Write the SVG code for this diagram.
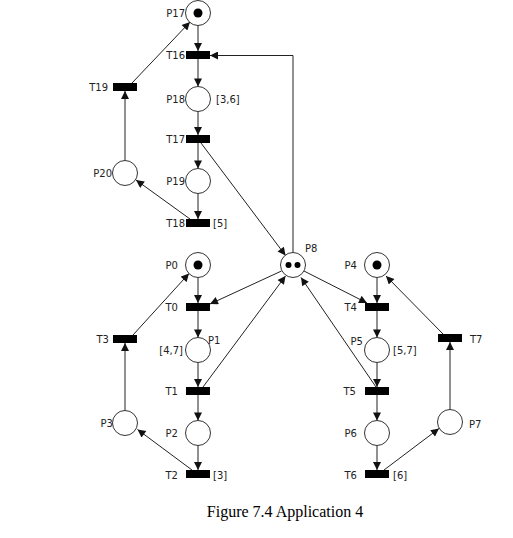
<svg xmlns="http://www.w3.org/2000/svg" width="513" height="538" viewBox="0 0 513 538">
<defs>
<marker id="ah" viewBox="0 0 10 10" refX="10" refY="5" markerWidth="9" markerHeight="8" markerUnits="userSpaceOnUse" orient="auto">
<path d="M0,0 L10,5 L0,10 Z" fill="#111"/>
</marker>
</defs>
<style>
.pl{fill:#fff;stroke:#333;stroke-width:1}
.tk{fill:#000}
.tr{fill:#000}
.lb{font-family:"DejaVu Sans","Liberation Sans",sans-serif;font-size:10px;fill:#222;dominant-baseline:central}
.e{text-anchor:end}
.ar{fill:none;stroke:#222;stroke-width:1;marker-end:url(#ah)}
.cap{font-family:"Liberation Serif",serif;font-size:16px;fill:#000;text-anchor:middle}
</style>
<rect width="513" height="538" fill="#fff"/>
<g id="connectors">
<line class="ar" x1="198" y1="25.5" x2="198" y2="51"/>
<line class="ar" x1="198" y1="59" x2="198" y2="86.5"/>
<line class="ar" x1="198" y1="111.5" x2="198" y2="135"/>
<line class="ar" x1="198" y1="143" x2="198" y2="168.5"/>
<line class="ar" x1="198" y1="193.5" x2="198" y2="219"/>
<line class="ar" x1="190" y1="219" x2="136" y2="180"/>
<line class="ar" x1="125" y1="160.5" x2="125" y2="91"/>
<line class="ar" x1="132" y1="83" x2="190" y2="22"/>
<path class="ar" d="M293,252.5 V55.5 H210"/>
<line class="ar" x1="201" y1="143" x2="285.5" y2="255.5"/>
<line class="ar" x1="281.5" y1="271" x2="210" y2="304"/>
<line class="ar" x1="203" y1="387" x2="285.5" y2="276"/>
<line class="ar" x1="304" y1="271" x2="367" y2="303"/>
<line class="ar" x1="376" y1="387" x2="301" y2="277.5"/>
<line class="ar" x1="198" y1="277.5" x2="198" y2="303"/>
<line class="ar" x1="198" y1="311" x2="198" y2="337.5"/>
<line class="ar" x1="198" y1="362.5" x2="198" y2="387"/>
<line class="ar" x1="198" y1="395" x2="198" y2="420.5"/>
<line class="ar" x1="198" y1="445.5" x2="198" y2="470"/>
<line class="ar" x1="192" y1="470" x2="137.5" y2="429.5"/>
<line class="ar" x1="125" y1="410.5" x2="125" y2="343"/>
<line class="ar" x1="133" y1="335" x2="189" y2="273.5"/>
<line class="ar" x1="377" y1="277.5" x2="377" y2="303"/>
<line class="ar" x1="377" y1="311" x2="377" y2="337.5"/>
<line class="ar" x1="377" y1="362.5" x2="377" y2="387"/>
<line class="ar" x1="377" y1="395" x2="377" y2="420.5"/>
<line class="ar" x1="377" y1="445.5" x2="377" y2="470"/>
<line class="ar" x1="384" y1="470" x2="439" y2="428.5"/>
<line class="ar" x1="450" y1="409.5" x2="450" y2="342"/>
<line class="ar" x1="443" y1="334" x2="386" y2="276"/>
</g>
<g id="P17"><circle class="pl" cx="198" cy="13" r="12.5"/><circle class="tk" cx="198" cy="13" r="4.5"/><text class="lb e" x="185" y="13">P17</text></g>
<g id="T16"><rect class="tr" x="186" y="51" width="24" height="8"/><text class="lb e" x="185" y="55">T16</text></g>
<g id="P18"><circle class="pl" cx="198" cy="99" r="12.5"/><text class="lb e" x="185" y="99">P18</text><text class="lb" x="216" y="99">[3,6]</text></g>
<g id="T17"><rect class="tr" x="186" y="135" width="24" height="8"/><text class="lb e" x="185" y="139">T17</text></g>
<g id="P19"><circle class="pl" cx="198" cy="181" r="12.5"/><text class="lb e" x="185" y="181">P19</text></g>
<g id="T18"><rect class="tr" x="186" y="219" width="24" height="8"/><text class="lb e" x="185" y="223">T18</text><text class="lb" x="213" y="223">[5]</text></g>
<g id="P20"><circle class="pl" cx="125" cy="173" r="12.5"/><text class="lb e" x="112" y="173">P20</text></g>
<g id="T19"><rect class="tr" x="113" y="83" width="24" height="8"/><text class="lb e" x="108" y="87">T19</text></g>
<g id="P8"><circle class="pl" cx="293" cy="265" r="12.5"/><circle class="tk" cx="288.5" cy="265" r="3"/><circle class="tk" cx="297.5" cy="265" r="3"/><text class="lb" x="305" y="248">P8</text></g>
<g id="P0"><circle class="pl" cx="198" cy="265" r="12.5"/><circle class="tk" cx="198" cy="265" r="4.5"/><text class="lb e" x="178" y="265">P0</text></g>
<g id="T0"><rect class="tr" x="186" y="303" width="24" height="8"/><text class="lb e" x="178" y="307">T0</text></g>
<g id="P1"><circle class="pl" cx="198" cy="350" r="12.5"/><text class="lb e" x="183" y="350">[4,7]</text><text class="lb" x="208" y="340">P1</text></g>
<g id="T1"><rect class="tr" x="186" y="387" width="24" height="8"/><text class="lb e" x="178" y="391">T1</text></g>
<g id="P2"><circle class="pl" cx="198" cy="433" r="12.5"/><text class="lb e" x="178" y="433">P2</text></g>
<g id="T2"><rect class="tr" x="186" y="470" width="24" height="8"/><text class="lb e" x="178" y="475">T2</text><text class="lb" x="213" y="475">[3]</text></g>
<g id="T3"><rect class="tr" x="113" y="335" width="24" height="8"/><text class="lb e" x="109" y="339">T3</text></g>
<g id="P3"><circle class="pl" cx="125" cy="423" r="12.5"/><text class="lb e" x="113" y="423">P3</text></g>
<g id="P4"><circle class="pl" cx="377" cy="265" r="12.5"/><circle class="tk" cx="377" cy="265" r="4.5"/><text class="lb e" x="357" y="265">P4</text></g>
<g id="T4"><rect class="tr" x="365" y="303" width="24" height="8"/><text class="lb e" x="357" y="307">T4</text></g>
<g id="P5"><circle class="pl" cx="377" cy="350" r="12.5"/><text class="lb e" x="363" y="341">P5</text><text class="lb" x="393" y="350">[5,7]</text></g>
<g id="T5"><rect class="tr" x="365" y="387" width="24" height="8"/><text class="lb e" x="356" y="391">T5</text></g>
<g id="P6"><circle class="pl" cx="377" cy="433" r="12.5"/><text class="lb e" x="357" y="433">P6</text></g>
<g id="T6"><rect class="tr" x="365" y="470" width="24" height="8"/><text class="lb e" x="357" y="475">T6</text><text class="lb" x="393" y="475">[6]</text></g>
<g id="T7"><rect class="tr" x="438" y="334" width="24" height="8"/><text class="lb" x="470" y="339">T7</text></g>
<g id="P7"><circle class="pl" cx="450" cy="422" r="12.5"/><text class="lb" x="469" y="424">P7</text></g>
<text class="cap" x="285" y="517">Figure 7.4 Application 4</text>
</svg>
